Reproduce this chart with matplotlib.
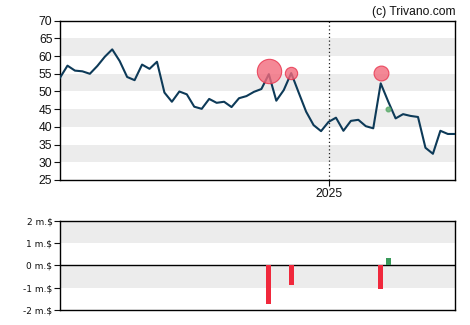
import pandas as pd
import matplotlib.pyplot as plt
import matplotlib.dates as mdates

# weekly closing prices
dates = pd.date_range('2024-04-24', periods=54, freq='7D')
prices = [53.9, 57.3, 55.9, 55.7, 55.0, 57.2, 59.8, 61.9, 58.6, 54.1,
          53.2, 57.6, 56.4, 58.4, 49.7, 47.1, 50.0, 49.2, 45.7, 45.1,
          47.9, 46.8, 47.1, 45.6, 48.1, 48.7, 49.9, 50.7, 54.9, 47.4,
          50.4, 55.2, 49.7, 44.3, 40.5, 38.8, 41.4, 42.6, 38.9, 41.7,
          42.0, 40.2, 39.6, 52.3, 47.2, 42.4, 43.6, 43.1, 42.8, 34.1,
          32.4, 38.9, 38.0, 38.0]

# insider trades (week index, bubble level, value in m.$)
trade_idx = [28, 31, 43, 44]
trade_level = [55.8, 55.2, 55.2, 45.1]
trade_value = [-1.72, -0.87, -1.05, 0.33]

fig = plt.figure(figsize=(4.7, 3.25), dpi=100)
ax = fig.add_axes([0.1277, 0.4462, 0.841, 0.4901])
ax2 = fig.add_axes([0.1277, 0.0462, 0.841, 0.2748])

# price chart
for lo in [30, 40, 50, 60]:
    ax.axhspan(lo, lo + 5, color='#ececec', lw=0, zorder=0)
ax.plot(dates, prices, color='#0d3a58', lw=1.5, zorder=3)
for i, lvl, v in zip(trade_idx, trade_level, trade_value):
    if v < 0:
        ax.plot(dates[i], lvl, 'o', ms=abs(v) * 10.2, mfc='#f26a7c', mec='#e8304a',
                mew=0.8, alpha=0.8, zorder=4)
    else:
        ax.plot(dates[i], lvl, 'o', ms=v * 10.2, mfc='#5aaa6a', mec='#5aaa6a',
                alpha=0.8, zorder=4)
ax.axvline(pd.Timestamp('2025-01-01'), color='#222222', ls=(0, (1, 2)), lw=0.9, zorder=2)
ax.set_ylim(25, 70)
ax.set_yticks(range(25, 71, 5))
ax.set_xlim(dates[0], dates[-1])
ax.set_xticks([pd.Timestamp('2025-01-01')])
ax.xaxis.set_major_formatter(mdates.DateFormatter('%Y'))
ax.tick_params(labelsize=8.7, length=4, width=0.8, colors='#111111', pad=1.5)
for lbl in ax.get_xticklabels() + ax.get_yticklabels():
    lbl.set_family('Liberation Sans')
for s in ax.spines.values():
    s.set_linewidth(1.0)
ax.text(1.0, 1.02, '(c) Trivano.com', transform=ax.transAxes, ha='right', va='bottom',
        fontsize=8.7, family='Liberation Sans', color='#111111')

# trade volume chart
ax2.axhspan(1, 2, color='#ececec', lw=0, zorder=0)
ax2.axhspan(-1, 0, color='#ececec', lw=0, zorder=0)
ax2.axhline(0, color='black', lw=1.0, zorder=2)
bar_dates = [dates[i] for i in trade_idx]
bar_colors = ['#f0283c' if v < 0 else '#3a9a5a' for v in trade_value]
ax2.bar(bar_dates, trade_value, width=4.4, color=bar_colors, zorder=3)
ax2.set_xlim(dates[0], dates[-1])
ax2.set_ylim(-2, 2)
ax2.set_yticks([-2, -1, 0, 1, 2])
ax2.set_yticklabels(['-2 m.$', '-1 m.$', '0 m.$', '1 m.$', '2 m.$'])
ax2.set_xticks([])
ax2.tick_params(labelsize=6.5, length=4, width=0.8, colors='#111111', pad=1.5)
for s in ax2.spines.values():
    s.set_linewidth(1.0)

fig.savefig('out.png', dpi=100)
